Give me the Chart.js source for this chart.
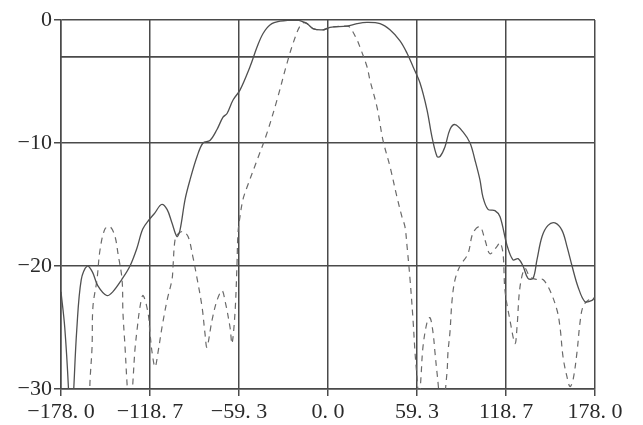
<!DOCTYPE html>
<html>
<head>
<meta charset="utf-8">
<script src="https://cdn.jsdelivr.net/npm/chart.js@4/dist/chart.umd.min.js"></script>
<style>
  html, body { margin: 0; padding: 0; background: #ffffff; }
  #wrap { width: 643px; height: 425px; position: relative; }
</style>
</head>
<body>
<div id="wrap"><canvas id="c" width="643" height="425"></canvas></div>
<script>
// Angle (deg) and level (dB) of the solid pattern
const solidX = [-178, -175.5, -173, -171.5, -169.5, -167.5, -164.5, -160.5, -157, -153.5, -147.5, -143.5, -137.5, -132, -127.5, -123.5, -119, -115.5, -111, -107.3, -104, -100.7, -98.7, -95.3, -92, -87.3, -83.3, -78.7, -74, -70, -67.3, -63.3, -58.7, -52, -47.3, -43.3, -38.7, -32, -20.7, -14, -10, -3.3, 1.3, 12.7, 19.3, 26, 34.7, 41.3, 48, 52.7, 56.7, 61.3, 66, 69.3, 72.7, 74.7, 78, 81.3, 84.7, 90, 94.7, 98, 101.3, 103.3, 106.7, 111.3, 114.7, 119.3, 123.3, 126.7, 130, 133.3, 136.7, 139.3, 142.7, 146.7, 151.3, 156, 159.3, 162.7, 166.7, 171.3, 176, 178];
const solidY = [-22.1, -25, -30, -35, -30, -25.2, -21.1, -20, -20.5, -21.6, -22.4, -22.1, -21.1, -20, -18.6, -17, -16.2, -15.7, -15, -15.4, -16.5, -17.6, -17.1, -14.6, -13, -11.1, -10, -9.8, -8.9, -7.9, -7.6, -6.5, -5.7, -3.8, -2.2, -1.1, -0.4, -0.1, 0, -0.3, -0.7, -0.8, -0.6, -0.5, -0.3, -0.2, -0.3, -0.8, -1.7, -2.7, -3.8, -5.1, -7.3, -9.5, -11.1, -11.1, -10.3, -8.9, -8.5, -9.1, -10, -11.4, -13, -14.4, -15.4, -15.5, -16, -18.3, -19.5, -19.4, -20, -21, -21, -19.5, -17.6, -16.7, -16.5, -17.1, -18.4, -20, -21.7, -22.9, -22.8, -22.5];

// Angle (deg) and level (dB) of the dashed pattern
const dashedX = [-178, -160, -158.7, -157.3, -156.7, -154, -152, -148.7, -145.3, -142, -140, -137.3, -136.7, -135.3, -134, -132, -130, -128.7, -127.3, -125.3, -123.3, -120, -118.7, -117.3, -115.3, -113.3, -110.7, -107.3, -104, -103.3, -102, -100, -96.7, -93.3, -90, -87.3, -84, -82, -80.7, -77.3, -74, -70.7, -68.7, -65.3, -64, -62, -60.7, -60, -58.7, -56.7, -54, -47.3, -40.7, -34, -27.3, -23.3, -18.7, -15.3, -10, -3.3, 1.3, 12.7, 14.7, 19.3, 21.3, 26, 28, 32.7, 36.7, 41.3, 46, 49.3, 51.3, 52.7, 54.7, 56.7, 58, 59.3, 60.7, 62, 63.3, 66, 68, 70, 71.3, 72.7, 76, 79.3, 80, 81.3, 82.7, 84.7, 88, 93.3, 96.7, 101.3, 104.7, 108, 112.7, 114.7, 116.7, 118, 121.3, 124.7, 126, 128, 131.3, 134.7, 139.3, 143.3, 148, 152.7, 154.7, 156.7, 159.3, 161.3, 163.3, 166, 168, 170, 173.3, 178];
const dashedY = [-40, -35, -29.5, -26.6, -23.3, -21.1, -18.7, -17, -16.8, -17.6, -19, -21.1, -23.8, -26.6, -29.5, -33, -29.3, -26.8, -25.2, -23.3, -22.4, -23.8, -25.4, -27, -28.2, -27, -25, -22.8, -21.1, -20, -17.9, -17.4, -17.2, -17.6, -19.3, -21, -23.3, -25.5, -26.6, -24.4, -22.8, -22, -22.8, -25, -26.3, -23.8, -20, -17.3, -16, -14.6, -13.6, -11.4, -9.2, -6.5, -3.5, -1.9, -0.5, -0.2, -0.7, -0.8, -0.6, -0.5, -0.6, -1.6, -2.2, -3.8, -4.9, -7.1, -9.8, -11.9, -14.4, -16, -16.8, -18.4, -21.1, -24.4, -27, -29, -31, -29, -26.6, -24.6, -24.2, -25.4, -27, -28.7, -32, -28.7, -27, -25.4, -22.8, -21.1, -20, -19, -17.3, -16.8, -17.9, -19, -18.4, -18.1, -19, -22, -24.4, -26.3, -25, -21.7, -20.2, -20.9, -21.1, -21.1, -22, -23.6, -25, -27.4, -29, -29.8, -29.3, -27, -24.6, -23.3, -22.8, -22.6];

// -3 dB reference level
const refX = [-178, 178];
const refY = [-3, -3];

// Axis ticks
const xTickValues = [-178, -118.7, -59.3, 0, 59.3, 118.7, 178];
const xTickLabels = ['\u2212178. 0', '\u2212118. 7', '\u221259. 3', '0. 0', '59. 3', '118. 7', '178. 0'];
const yTickValues = [0, -10, -20, -30];
const yTickLabels = ['0', '\u221210', '\u221220', '\u221230'];

const toPts = (xs, ys) => xs.map((x, i) => ({ x: x, y: ys[i] }));
const gridColor = '#4a4a4a';
const textColor = '#2a2a2a';
const tickFont = { family: '"Liberation Serif", "DejaVu Serif", serif', size: 22 };

new Chart(document.getElementById('c'), {
  type: 'line',
  data: {
    datasets: [
      {
        label: 'solid',
        data: toPts(solidX, solidY),
        borderColor: '#505050',
        borderWidth: 1.3,
        pointRadius: 0,
        tension: 0.35,
        fill: false
      },
      {
        label: 'dashed',
        data: toPts(dashedX, dashedY),
        borderColor: '#6a6a6a',
        borderWidth: 1.2,
        borderDash: [6, 5],
        pointRadius: 0,
        tension: 0.35,
        fill: false
      },
      {
        label: 'ref',
        data: toPts(refX, refY),
        borderColor: gridColor,
        borderWidth: 1.6,
        pointRadius: 0,
        tension: 0,
        fill: false
      }
    ]
  },
  options: {
    responsive: false,
    animation: false,
    layout: { padding: { left: 0, right: 48, top: 20, bottom: 0 } },
    plugins: { legend: { display: false }, tooltip: { enabled: false } },
    scales: {
      x: {
        type: 'linear',
        min: -178,
        max: 178,
        afterBuildTicks: (s) => { s.ticks = xTickValues.map(v => ({ value: v })); },
        afterFit: (s) => { s.height = 36; },
        ticks: {
          autoSkip: false,
          maxRotation: 0,
          minRotation: 0,
          padding: 3,
          color: textColor,
          font: tickFont,
          callback: (v, i) => xTickLabels[i]
        },
        grid: { color: gridColor, lineWidth: 1.5, tickLength: 7, drawTicks: true },
        border: { display: true, color: gridColor, width: 1.5 }
      },
      y: {
        type: 'linear',
        min: -30,
        max: 0,
        afterBuildTicks: (s) => { s.ticks = yTickValues.map(v => ({ value: v })); },
        afterFit: (s) => { s.width = 61; },
        ticks: {
          autoSkip: false,
          padding: 2,
          color: textColor,
          font: tickFont,
          callback: (v) => yTickLabels[yTickValues.indexOf(v)]
        },
        grid: { color: gridColor, lineWidth: 1.5, tickLength: 7, drawTicks: true },
        border: { display: true, color: gridColor, width: 1.5 }
      }
    }
  }
});
</script>
</body>
</html>
